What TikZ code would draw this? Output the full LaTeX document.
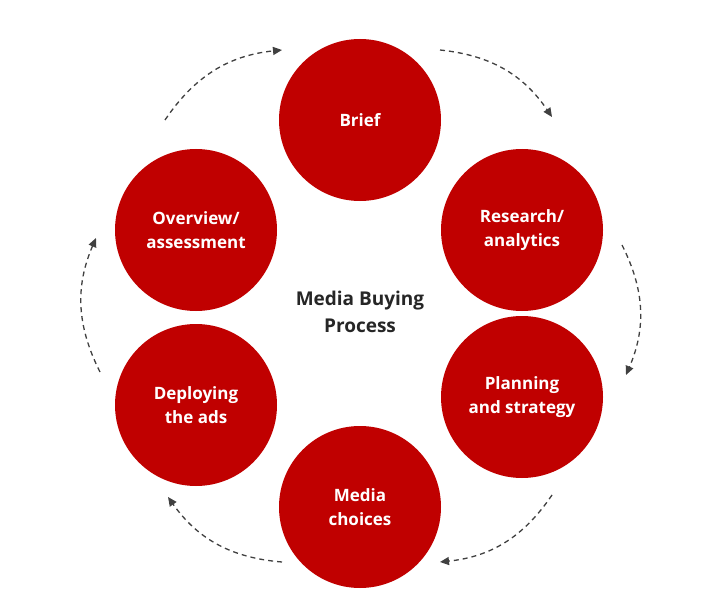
\documentclass[tikz,border=0pt]{standalone}
\usepackage{fontspec}
\setmainfont{Open Sans}
\usetikzlibrary{arrows.meta}
\definecolor{mred}{RGB}{192,0,0}
\begin{document}
\begin{tikzpicture}[x=1pt,y=-1pt,
  stage/.style={circle,fill=mred,minimum size=162pt,inner sep=0pt,text=white,font=\fontsize{17}{24}\selectfont\bfseries,align=center},
  flow/.style={line width=1.3pt,draw=black!75,dash pattern=on 5pt off 4pt,-{Triangle[length=9pt,width=8pt]}}]
\useasboundingbox[fill=white] (0,0) rectangle (720,615);
\node[stage] (brief) at (360,120) {Brief};
\node[stage] (res) at (522,230) {Research/\\analytics};
\node[stage] (plan) at (522,397) {Planning\\and strategy};
\node[stage] (media) at (360,507) {Media\\choices};
\node[stage] (dep) at (196,405) {Deploying\\the ads};
\node[stage] (over) at (196,230) {Overview/\\assessment};
\node[font=\fontsize{19}{27}\selectfont\bfseries,align=center,text=black!85] (title) at (360,312) {Media Buying\\Process};
\coordinate (a1) at (165,120); \coordinate (a2) at (282,50);
\coordinate (b1) at (440,50); \coordinate (b2) at (552,117);
\coordinate (c1) at (622,245); \coordinate (c2) at (626,375);
\coordinate (d1) at (552,495); \coordinate (d2) at (440,562);
\coordinate (e1) at (282,562); \coordinate (e2) at (168,497);
\coordinate (f1) at (100,372); \coordinate (f2) at (96,238);
\draw[flow] (a1) to[bend left=25] (a2);
\draw[flow] (b1) to[bend left=25] (b2);
\draw[flow] (c1) to[bend left=25] (c2);
\draw[flow] (d1) to[bend left=25] (d2);
\draw[flow] (e1) to[bend left=25] (e2);
\draw[flow] (f1) to[bend left=25] (f2);
\end{tikzpicture}
\end{document}
